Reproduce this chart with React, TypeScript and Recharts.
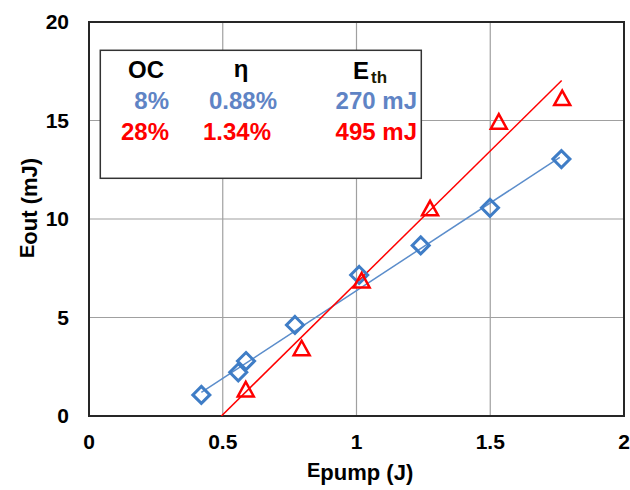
import React from 'react';
import { ComposedChart, Scatter, XAxis, YAxis, CartesianGrid, ReferenceArea } from 'recharts';

// Measured data: output energy (mJ) vs pump energy (J)
const oc8PumpJ = [0.42, 0.558, 0.587, 0.77, 1.01, 1.24, 1.499, 1.766];
const oc8OutMJ = [1.07, 2.22, 2.79, 4.62, 7.16, 8.66, 10.57, 13.04];
const oc28PumpJ = [0.586, 0.795, 1.019, 1.275, 1.532, 1.769];
const oc28OutMJ = [1.35, 3.44, 6.88, 10.54, 14.94, 16.14];

// Linear fits (endpoints)
const fit8PumpJ = [0.42, 1.76];
const fit8OutMJ = [1.2, 13.13];
const fit28PumpJ = [0.495, 1.767];
const fit28OutMJ = [0, 17.03];

const xTicks = [0, 0.5, 1, 1.5, 2];
const yTicks = [0, 5, 10, 15, 20];

const legendHeader = ['OC', 'η', 'E'];
const legendRow8 = ['8%', '0.88%', '270 mJ'];
const legendRow28 = ['28%', '1.34%', '495 mJ'];

const toPts = (xs: number[], ys: number[]) => xs.map((x, i) => ({ x, y: ys[i] }));

const oc8 = toPts(oc8PumpJ, oc8OutMJ);
const oc28 = toPts(oc28PumpJ, oc28OutMJ);
const fit8 = toPts(fit8PumpJ, fit8OutMJ);
const fit28 = toPts(fit28PumpJ, fit28OutMJ);

const FONT = '"Liberation Sans", Arial, sans-serif';
const BLUE_MARK = '#3F7DC6';
const BLUE_LINE = '#5B8DCB';
const BLUE_TEXT = '#5F84C5';
const RED = '#FF0000';

const Diamond = (props: any) => {
  const { cx, cy } = props;
  const r = 8.5;
  return (
    <path
      d={`M${cx},${cy - r}L${cx + r},${cy}L${cx},${cy + r}L${cx - r},${cy}Z`}
      fill="none"
      stroke={BLUE_MARK}
      strokeWidth={3}
      strokeLinejoin="miter"
    />
  );
};

const Triangle = (props: any) => {
  const { cx, cy } = props;
  return (
    <path
      d={`M${cx},${cy - 7.5}L${cx + 8},${cy + 7}L${cx - 8},${cy + 7}Z`}
      fill="none"
      stroke={RED}
      strokeWidth={2.5}
    />
  );
};

const NoShape = () => <g />;

const tickStyle = { fill: '#000', fontSize: 21, fontWeight: 700, fontFamily: FONT };

export default function App() {
  return (
    <div
      style={{
        position: 'absolute',
        left: 0,
        top: 0,
        width: 630,
        height: 490,
        background: '#fff',
        fontFamily: FONT,
      }}
    >
      <ComposedChart
        width={630}
        height={490}
        margin={{ top: 22, right: 6, bottom: 34, left: 29 }}
      >
        <CartesianGrid stroke="#A0A0A0" strokeWidth={1.2} />
        <XAxis
          type="number"
          dataKey="x"
          domain={[0, 2]}
          ticks={xTicks}
          allowDataOverflow
          height={40}
          axisLine={false}
          tickLine={false}
          tickSize={0}
          tickMargin={18}
          tick={tickStyle}
          tickFormatter={(v: number) => String(v)}
          label={{
            content: () => (
              <text x={307} y={477} fontFamily={FONT} fontWeight={700} fill="#000">
                <tspan fontSize={20}>E</tspan>
                <tspan fontSize={22} dy={3}>pump</tspan>
                <tspan fontSize={22}> (J)</tspan>
              </text>
            ),
          }}
        />
        <YAxis
          type="number"
          dataKey="y"
          domain={[0, 20]}
          ticks={yTicks}
          allowDataOverflow
          width={60}
          axisLine={false}
          tickLine={false}
          tickSize={0}
          tickMargin={20}
          tick={tickStyle}
          label={{
            content: () => (
              <text
                x={34}
                y={258}
                transform="rotate(-90 34 258)"
                fontFamily={FONT}
                fontWeight={700}
                fill="#000"
              >
                <tspan fontSize={20}>E</tspan>
                <tspan fontSize={22} dy={3}>out</tspan>
                <tspan fontSize={22}> (mJ)</tspan>
              </text>
            ),
          }}
        />
        <ReferenceArea
          x1={xTicks[0]}
          x2={xTicks[xTicks.length - 1]}
          y1={yTicks[0]}
          y2={yTicks[yTicks.length - 1]}
          fill="none"
          stroke="#262626"
          strokeWidth={2}
          fillOpacity={0}
        />
        <Scatter
          data={fit8}
          line={{ stroke: BLUE_LINE, strokeWidth: 1.5 }}
          shape={NoShape}
          isAnimationActive={false}
        />
        <Scatter
          data={fit28}
          line={{ stroke: RED, strokeWidth: 1.5 }}
          shape={NoShape}
          isAnimationActive={false}
        />
        <Scatter data={oc8} shape={Diamond} isAnimationActive={false} />
        <Scatter data={oc28} shape={Triangle} isAnimationActive={false} />
      </ComposedChart>
      <svg
        width={630}
        height={490}
        style={{ position: 'absolute', left: 0, top: 0, pointerEvents: 'none' }}
      >
        <rect x={100.3} y={50.3} width={321} height={128} fill="#fff" stroke="#333" strokeWidth={1.5} />
        <g fontFamily={FONT} fontWeight={700} fontSize={24}>
          <text x={128} y={78} fill="#000">{legendHeader[0]}</text>
          <text x={241} y={77} fill="#000" textAnchor="middle">{legendHeader[1]}</text>
          <text x={353} y={79} fill="#000">
            {legendHeader[2]}
            <tspan fontSize={17} dx={2} dy={4} fill="#1a1a00">th</tspan>
          </text>
          <text x={169} y={109} fill={BLUE_TEXT} textAnchor="end">{legendRow8[0]}</text>
          <text x={209} y={109} fill={BLUE_TEXT}>{legendRow8[1]}</text>
          <text x={417} y={109} fill={BLUE_TEXT} textAnchor="end">{legendRow8[2]}</text>
          <text x={169} y={140} fill={RED} textAnchor="end">{legendRow28[0]}</text>
          <text x={203} y={140} fill={RED}>{legendRow28[1]}</text>
          <text x={417} y={140} fill={RED} textAnchor="end">{legendRow28[2]}</text>
        </g>
      </svg>
    </div>
  );
}
